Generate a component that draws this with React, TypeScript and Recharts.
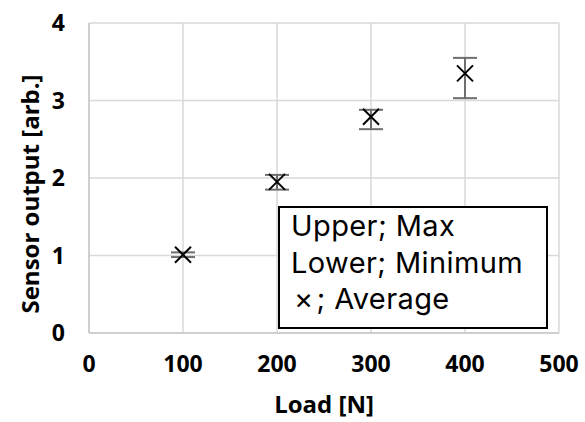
import React from 'react';
import { ScatterChart, Scatter, XAxis, YAxis, CartesianGrid, ErrorBar, Label } from 'recharts';

const loads = [100, 200, 300, 400];
const averages = [1.01, 1.95, 2.79, 3.35];
const maxima = [1.04, 2.04, 2.88, 3.55];
const minima = [0.98, 1.85, 2.63, 3.03];
const xTicks = [0, 100, 200, 300, 400, 500];
const yTicks = [0, 1, 2, 3, 4];
const legendLines = ['Upper; Max', 'Lower; Minimum'];
const legendMarkSymbol = '×';
const legendMarkText = '; Average';
const xTitle = 'Load [N]';
const yTitle = 'Sensor output [arb.]';

const data = loads.map((x, i) => ({
  x,
  y: averages[i],
  err: [averages[i] - minima[i], maxima[i] - averages[i]],
}));

const FONT = "'Open Sans', 'Noto Sans', sans-serif";
const LEGEND_FONT = "Inter, 'Noto Sans', sans-serif";

const XMark = (props: any) => {
  const { cx, cy } = props;
  const s = 8;
  return (
    <g>
      <line x1={cx - s} y1={cy - s} x2={cx + s} y2={cy + s} stroke="#000" strokeWidth={2} />
      <line x1={cx - s} y1={cy + s} x2={cx + s} y2={cy - s} stroke="#000" strokeWidth={2} />
    </g>
  );
};

const YTitle = () => {
  const cx = 29;
  const cy = 194;
  return (
    <text
      x={cx}
      y={cy}
      transform={`rotate(-90, ${cx}, ${cy})`}
      textAnchor="middle"
      dominantBaseline="central"
      fontFamily={FONT}
      fontWeight={700}
      fontSize={24}
      fill="#000"
    >
      {yTitle}
    </text>
  );
};

export default function App() {
  return (
    <div style={{ position: 'absolute', left: 0, top: 0, width: 585, height: 422, background: '#fff' }}>
      <ScatterChart width={585} height={422} margin={{ top: 23, right: 26, bottom: 0, left: 0 }}>
        <CartesianGrid stroke="#d9d9d9" strokeWidth={1.5} horizontalValues={yTicks} verticalValues={xTicks} />
        <XAxis
          type="number"
          dataKey="x"
          domain={[0, 500]}
          ticks={xTicks}
          height={89}
          tickSize={0}
          tickMargin={23}
          axisLine={{ stroke: '#c8c8c8', strokeWidth: 1.5 }}
          tickLine={false}
          tick={{ fill: '#000', fontSize: 23, fontWeight: 700, fontFamily: FONT }}
        >
          <Label
            value={xTitle}
            position="insideBottom"
            offset={9}
            fill="#000"
            fontSize={24}
            fontWeight={700}
            fontFamily={FONT}
          />
        </XAxis>
        <YAxis
          type="number"
          dataKey="y"
          domain={[0, 4]}
          ticks={yTicks}
          width={89}
          tickSize={0}
          tickMargin={24}
          axisLine={{ stroke: '#c8c8c8', strokeWidth: 1.5 }}
          tickLine={false}
          tick={{ fill: '#000', fontSize: 23, fontWeight: 700, fontFamily: FONT }}
        >
          <Label content={<YTitle />} />
        </YAxis>
        <Scatter data={data} shape={<XMark />} isAnimationActive={false}>
          <ErrorBar dataKey="err" direction="y" width={12} stroke="#6e6e6e" strokeWidth={2} />
        </Scatter>
      </ScatterChart>
      <div
        style={{
          position: 'absolute',
          left: 278,
          top: 206,
          width: 270,
          height: 123,
          border: '2px solid #000',
          background: '#fff',
          fontFamily: LEGEND_FONT,
          fontSize: 29,
          letterSpacing: 0.4,
          lineHeight: '36.5px',
          color: '#000',
          paddingLeft: 11,
          paddingTop: 0,
          boxSizing: 'border-box',
        }}
      >
        {legendLines.map((t) => (
          <div key={t} style={{ whiteSpace: 'pre' }}>{t}</div>
        ))}
        <div style={{ whiteSpace: 'pre' }}>
          <span style={{ marginLeft: 3, marginRight: 3 }}>{legendMarkSymbol}</span>
          {legendMarkText}
        </div>
      </div>
    </div>
  );
}
